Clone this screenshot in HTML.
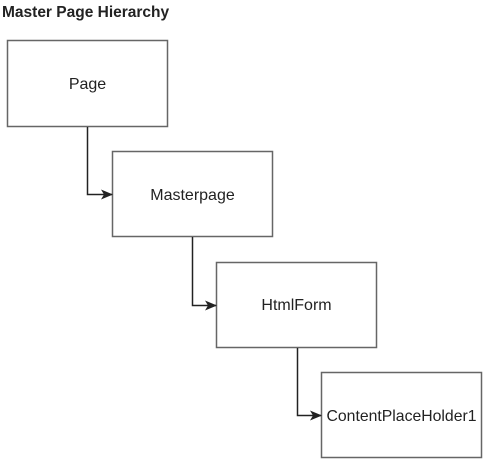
<!DOCTYPE html>
<html><head><meta charset="utf-8"><style>
body{margin:0;background:#fff;width:484px;height:460px;overflow:hidden}
</style></head><body>
<svg width="484" height="460" xmlns="http://www.w3.org/2000/svg" font-family="Liberation Sans, sans-serif">
<defs><marker id="a" markerWidth="12" markerHeight="10" refX="11" refY="5" orient="auto" markerUnits="userSpaceOnUse"><path d="M0,0 L12,5 L0,10 L3,5 Z" fill="#222"/></marker></defs>
<text x="2" y="17" font-size="15.5" font-weight="bold" fill="#222">Master Page Hierarchy</text>
<g fill="#fff" stroke="#666" stroke-width="1.5">
<rect x="7.5" y="40.5" width="160" height="86"/>
<rect x="112.5" y="151.5" width="160" height="85"/>
<rect x="216.5" y="262.5" width="160" height="85"/>
<rect x="321.5" y="372.5" width="160" height="85"/>
</g>
<g fill="none" stroke="#222" stroke-width="1.5" marker-end="url(#a)">
<path d="M87.5,127 V194.5 H112"/>
<path d="M192.5,237 V305.5 H216"/>
<path d="M297.5,348 V415.5 H321"/>
</g>
<g font-size="16" fill="#222" text-anchor="middle">
<text x="87.5" y="89">Page</text>
<text x="192.5" y="200">Masterpage</text>
<text x="296.5" y="310">HtmlForm</text>
<text x="401.5" y="421" textLength="150" lengthAdjust="spacingAndGlyphs">ContentPlaceHolder1</text>
</g>
</svg>
</body></html>
